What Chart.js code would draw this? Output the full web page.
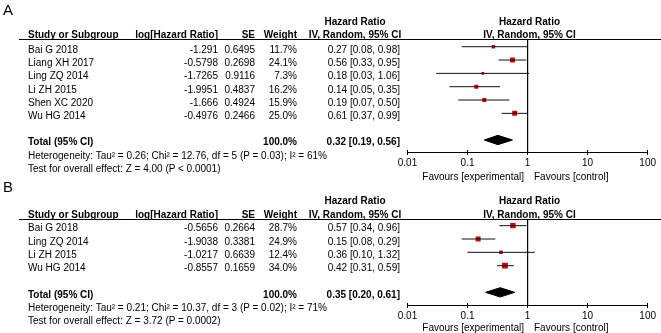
<!DOCTYPE html>
<html><head><meta charset="utf-8">
<script src="https://cdn.jsdelivr.net/npm/chart.js@4.4.1/dist/chart.umd.min.js"></script>
<style>
html,body{margin:0;padding:0;background:#fff;}
#wrap{position:relative;width:661px;height:333px;overflow:hidden;background:#fff;font-family:"Liberation Sans",Arial,sans-serif;color:#000;}
canvas{position:absolute;left:0;top:0;}
.t{position:absolute;white-space:nowrap;font-size:10px;line-height:12px;z-index:5;}
.b{font-weight:bold;}
.rule{position:absolute;height:0;border-top:1px solid #000;z-index:4;}
</style></head>
<body><div id="wrap"><canvas id="cA" width="661" height="333"></canvas><canvas id="cB" width="661" height="333"></canvas></div>
<script>
// ---------- Panel A data ----------
const studiesA = ["Bai G 2018", "Liang XH 2017", "Ling ZQ 2014", "Li ZH 2015", "Shen XC 2020", "Wu HG 2014"];
const logHrA = [-1.291, -0.5798, -1.7265, -1.9951, -1.666, -0.4976];
const seA = [0.6495, 0.2698, 0.9116, 0.4837, 0.4924, 0.2466];
const weightA = [11.7, 24.1, 7.3, 16.2, 15.9, 25.0];
const hrA = [0.27, 0.56, 0.18, 0.14, 0.19, 0.61];
const loA = [0.08, 0.33, 0.03, 0.05, 0.07, 0.37];
const hiA = [0.98, 0.95, 1.06, 0.35, 0.50, 0.99];
const totalA = [0.32, 0.19, 0.56]; // estimate, lower, upper
const totalWeightA = 100.0;
const hetA = "Heterogeneity: Tau² = 0.26; Chi² = 12.76, df = 5 (P = 0.03); I² = 61%";
const testA = "Test for overall effect: Z = 4.00 (P < 0.0001)";

// ---------- Panel B data ----------
const studiesB = ["Bai G 2018", "Ling ZQ 2014", "Li ZH 2015", "Wu HG 2014"];
const logHrB = [-0.5656, -1.9038, -1.0217, -0.8557];
const seB = [0.2664, 0.3381, 0.6639, 0.1659];
const weightB = [28.7, 24.9, 12.4, 34.0];
const hrB = [0.57, 0.15, 0.36, 0.42];
const loB = [0.34, 0.08, 0.10, 0.31];
const hiB = [0.96, 0.29, 1.32, 0.59];
const totalB = [0.35, 0.20, 0.61];
const totalWeightB = 100.0;
const hetB = "Heterogeneity: Tau² = 0.21; Chi² = 10.37, df = 3 (P = 0.02); I² = 71%";
const testB = "Test for overall effect: Z = 3.72 (P = 0.0002)";

// ---------- axis ----------
const xTicks = [0.01, 0.1, 1, 10, 100];
const favLeft = "Favours [experimental]";
const favRight = "Favours [control]";

const FONT = '"Liberation Sans", Arial, sans-serif';
const wrap = document.getElementById('wrap');

function addText(txt, x, y, align, bold, size) {
  const d = document.createElement('div');
  d.className = 't' + (bold ? ' b' : '');
  d.textContent = txt;
  const fs = size || 10;
  const lh = fs + 2;
  d.style.fontSize = fs + 'px';
  d.style.lineHeight = lh + 'px';
  d.style.top = (y - lh / 2) + 'px';
  if (align === 'r') { d.style.left = (x - 400) + 'px'; d.style.width = '400px'; d.style.textAlign = 'right'; }
  else if (align === 'c') { d.style.left = (x - 200) + 'px'; d.style.width = '400px'; d.style.textAlign = 'center'; }
  else { d.style.left = x + 'px'; }
  wrap.appendChild(d);
}
function addRule(x, y, w) {
  const d = document.createElement('div');
  d.className = 'rule';
  d.style.left = x + 'px'; d.style.top = y + 'px'; d.style.width = w + 'px';
  wrap.appendChild(d);
}

const COL = { study: 28, log: 218, se: 255, w: 297, hr: 400, hrHdr: 355, plotHdr: 529.5 };

function buildTable(p) {
  addText(p.letter, 3, p.letterY, 'l', false, 15);
  addText('Hazard Ratio', COL.hrHdr, p.hdr1Y, 'c', true);
  addText('Hazard Ratio', COL.plotHdr, p.hdr1Y, 'c', true);
  addText('Study or Subgroup', COL.study, p.hdr2Y, 'l', true);
  addText('log[Hazard Ratio]', COL.log, p.hdr2Y, 'r', true);
  addText('SE', COL.se, p.hdr2Y, 'r', true);
  addText('Weight', COL.w, p.hdr2Y, 'r', true);
  addText('IV, Random, 95% CI', COL.hrHdr, p.hdr2Y, 'c', true);
  addText('IV, Random, 95% CI', COL.plotHdr, p.hdr2Y, 'c', true);
  addRule(19, p.ruleY, 642);
  p.studies.forEach((s, i) => {
    const y = p.row0Y + i * p.step;
    addText(s, COL.study, y, 'l');
    addText(String(p.logHr[i]), COL.log, y, 'r');
    addText(String(p.se[i]), COL.se, y, 'r');
    addText(p.weight[i].toFixed(1) + '%', COL.w, y, 'r');
    addText(p.hr[i].toFixed(2) + ' [' + p.lo[i].toFixed(2) + ', ' + p.hi[i].toFixed(2) + ']', COL.hr, y, 'r');
  });
  addText('Total (95% CI)', COL.study, p.totalY, 'l', true);
  addText(p.totalWeight.toFixed(1) + '%', COL.w, p.totalY, 'r', true);
  addText(p.total[0].toFixed(2) + ' [' + p.total[1].toFixed(2) + ', ' + p.total[2].toFixed(2) + ']', COL.hr, p.totalY, 'r', true);
  addText(p.het, COL.study, p.hetY, 'l');
  addText(p.test, COL.study, p.testY, 'l');
  addText(favLeft, 524, p.favY, 'r');
  addText(favRight, 534, p.favY, 'l');
}

const tickMarks = {
  id: 'tickMarks',
  afterDraw(chart) {
    const s = chart.scales.x, ctx = chart.ctx, y = chart.chartArea.bottom;
    ctx.save();
    ctx.strokeStyle = '#000'; ctx.lineWidth = 1;
    s.ticks.forEach(t => {
      const px = Math.round(s.getPixelForValue(t.value) - 0.5) + 0.5;
      ctx.beginPath(); ctx.moveTo(px, y - 2); ctx.lineTo(px, y + 3); ctx.stroke();
    });
    ctx.restore();
  }
};

function buildChart(id, p) {
  const datasets = [];
  // line of no effect
  datasets.push({ type: 'line', data: [{ x: 1, y: p.yMin }, { x: 1, y: p.yMax }], borderColor: '#000', borderWidth: 1, pointRadius: 0, fill: false });
  // confidence intervals
  p.hr.forEach((h, i) => {
    datasets.push({ type: 'line', data: [{ x: p.lo[i], y: i }, { x: p.hi[i], y: i }], borderColor: '#111', borderWidth: 1, pointRadius: 0, fill: false });
  });
  // study estimates (box area ~ weight)
  datasets.push({
    type: 'scatter',
    data: p.hr.map((h, i) => ({ x: h, y: i })),
    pointStyle: 'rect',
    pointRadius: p.weight.map(w => Math.sqrt(w / 2)),
    backgroundColor: '#cc0000', borderWidth: 0, pointBorderWidth: 0
  });
  // pooled diamond
  const r = p.totalRow, d = 0.35;
  datasets.push({
    type: 'line',
    data: [{ x: p.total[1], y: r }, { x: p.total[0], y: r - d }, { x: p.total[2], y: r }, { x: p.total[0], y: r + d }, { x: p.total[1], y: r }],
    borderColor: '#000', borderWidth: 1, backgroundColor: '#000', pointRadius: 0, fill: 'shape', tension: 0
  });

  new Chart(document.getElementById(id), {
    type: 'scatter',
    data: { datasets },
    options: {
      responsive: false, animation: false, events: [],
      layout: { padding: { left: 407.5, right: 9.5, top: p.ruleY, bottom: 0 } },
      plugins: { legend: { display: false }, tooltip: { enabled: false } },
      scales: {
        x: {
          type: 'logarithmic', min: 0.01, max: 100, position: 'bottom',
          afterBuildTicks: s => { s.ticks = xTicks.map(v => ({ value: v })); },
          afterFit: s => { s.height = 333 - p.axisY; },
          grid: { display: false, drawTicks: false },
          border: { display: true, color: '#000', width: 1 },
          ticks: { font: { family: FONT, size: 10 }, color: '#000', padding: 5, autoSkip: false, maxRotation: 0, callback: v => String(v) }
        },
        y: { type: 'linear', display: false, reverse: true, min: p.yMin, max: p.yMax }
      }
    },
    plugins: [tickMarks]
  });
}

const panelA = {
  letter: 'A', letterY: 9, hdr1Y: 21.7, hdr2Y: 35, ruleY: 39, row0Y: 50, step: 13.2,
  totalY: 142, hetY: 155.5, testY: 169, favY: 176.5,
  studies: studiesA, logHr: logHrA, se: seA, weight: weightA, totalWeight: totalWeightA, hr: hrA, lo: loA, hi: hiA, total: totalA, het: hetA, test: testA,
  axisY: 152, yMin: -0.578, yMax: 7.9, totalRow: 7
};
const panelB = {
  letter: 'B', letterY: 186, hdr1Y: 200.7, hdr2Y: 214.7, ruleY: 219, row0Y: 228.3, step: 13.33,
  totalY: 295, hetY: 308, testY: 320.5, favY: 328,
  studies: studiesB, logHr: logHrB, se: seB, weight: weightB, totalWeight: totalWeightB, hr: hrB, lo: loB, hi: hiB, total: totalB, het: hetB, test: testB,
  axisY: 305, yMin: -0.5, yMax: 5.95, totalRow: 5
};

buildTable(panelA);
buildTable(panelB);
buildChart('cA', panelA);
buildChart('cB', panelB);
</script>
</body></html>
